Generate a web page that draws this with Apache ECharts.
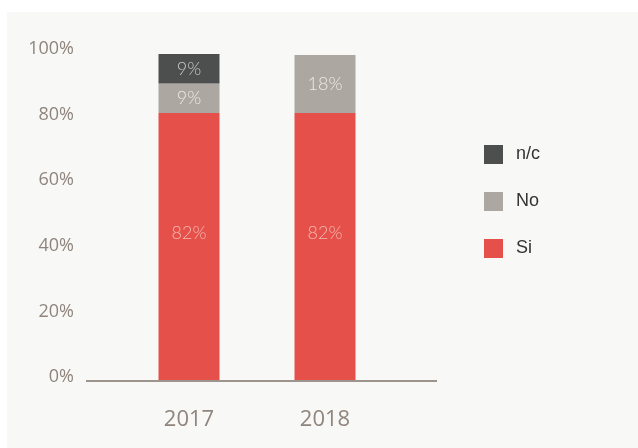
<!DOCTYPE html>
<html>
<head>
<meta charset="utf-8">
<script src="https://cdn.jsdelivr.net/npm/echarts@6/dist/echarts.min.js"></script>
<style>
html,body{margin:0;padding:0;background:#fff;}
#chart{width:638px;height:448px;}
</style>
</head>
<body>
<div id="chart"></div>
<script>
// datos
var years = ['2017', '2018'];
var si = [82, 82];
var no = [9, 17.7];
var nc = [9, 0];
var yTicks = [0, 20, 40, 60, 80, 100];

var myChart = echarts.init(document.getElementById('chart'));

function lbl(color, dy) {
    return {
        show: true,
        position: 'inside',
        offset: [0, dy || 0],
        color: color,
        fontFamily: 'Lato',
        fontWeight: 300,
        fontSize: 18,
        formatter: function (p) {
            return p.value > 0 ? Math.round(p.value) + '%' : '';
        }
    };
}

var option = {
    backgroundColor: '#fff',
    animation: false,
    graphic: [
        {
            type: 'rect', z: -10, silent: true,
            shape: {x: 7, y: 12, width: 631, height: 436},
            style: {fill: '#f8f8f6'}
        },
        {
            type: 'line', z: 10, silent: true,
            shape: {x1: 86, y1: 381, x2: 437, y2: 381},
            style: {stroke: '#9d948d', lineWidth: 2}
        }
    ],
    grid: {
        left: 121,
        width: 272,
        top: 54,
        bottom: 66
    },
    legend: {
        orient: 'vertical',
        left: 484,
        top: 145,
        padding: 0,
        itemWidth: 19,
        itemHeight: 19,
        itemGap: 28,
        icon: 'rect',
        textStyle: {
            fontFamily: 'Liberation Sans',
            fontSize: 18,
            color: '#333',
            padding: [0, 0, 0, 8]
        },
        data: ['n/c', 'No', 'Si']
    },
    xAxis: {
        type: 'category',
        data: years,
        axisLine: {show: false},
        axisTick: {show: false},
        axisLabel: {
            margin: 27,
            fontFamily: 'Open Sans',
            fontSize: 22,
            color: '#8f857d'
        }
    },
    yAxis: {
        type: 'value',
        min: yTicks[0],
        max: yTicks[yTicks.length - 1],
        interval: 20,
        splitLine: {show: false},
        axisLine: {show: false},
        axisTick: {show: false},
        axisLabel: {
            margin: 47,
            fontFamily: 'Open Sans',
            fontSize: 18,
            color: '#8f857d',
            verticalAlign: 'bottom',
            lineHeight: 10,
            formatter: '{value}%'
        }
    },
    series: [
        {
            name: 'Si', type: 'bar', stack: 'total', barWidth: 61,
            itemStyle: {color: '#e5504a'},
            label: lbl('#f6b7b1', -14),
            data: si
        },
        {
            name: 'No', type: 'bar', stack: 'total', barWidth: 61,
            itemStyle: {color: '#aca7a1'},
            label: lbl('#ece9e5'),
            data: no
        },
        {
            name: 'n/c', type: 'bar', stack: 'total', barWidth: 61,
            itemStyle: {color: '#4d4f4e'},
            label: lbl('#c9c9c7'),
            data: nc
        }
    ]
};
myChart.setOption(option);
</script>
</body>
</html>
